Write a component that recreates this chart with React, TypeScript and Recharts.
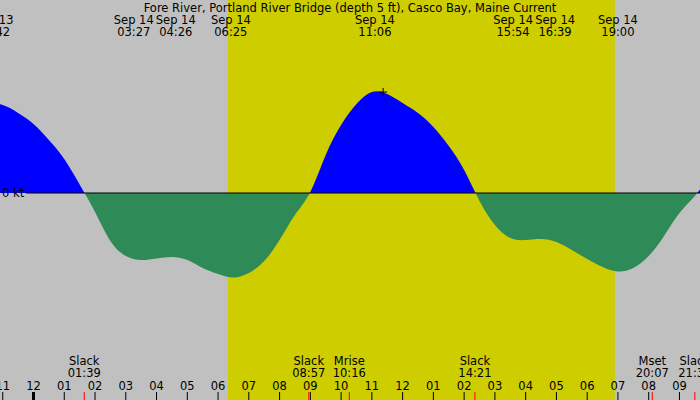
import React from 'react';
import {
  ComposedChart,
  Area,
  XAxis,
  YAxis,
  ReferenceArea,
  ReferenceLine,
  ReferenceDot,
} from 'recharts';

// current curve, every half hour from midnight Sep 14, in knots
const curveHours = [
  -1.5, -1, -0.5, 0, 0.5, 1, 1.5, 2, 2.5, 3, 3.5, 4, 4.5, 5, 5.5, 6, 6.5, 7, 7.5, 8, 8.5,
  9, 9.5, 10, 10.5, 11, 11.5, 12, 12.5, 13, 13.5, 14, 14.5, 15, 15.5, 16, 16.5, 17, 17.5,
  18, 18.5, 19, 19.5, 20, 20.5, 21, 21.5, 22,
];
const curveKt = [
  0.89, 0.88, 0.8, 0.69, 0.53, 0.34, 0.085, -0.19, -0.48, -0.63, -0.67, -0.655, -0.64, -0.67,
  -0.75, -0.81, -0.845, -0.8, -0.68, -0.47, -0.22, 0.01, 0.38, 0.68, 0.89, 1.01, 0.99, 0.9,
  0.8, 0.66, 0.47, 0.23, -0.08, -0.32, -0.45, -0.47, -0.46, -0.49, -0.57, -0.66, -0.74,
  -0.785, -0.75, -0.63, -0.43, -0.2, -0.03, 0.18,
];

// max / min current events (top row)
const peakDates = ['Sep 13', 'Sep 14', 'Sep 14', 'Sep 14', 'Sep 14', 'Sep 14', 'Sep 14', 'Sep 14'];
const peakTimes = ['22:42', '03:27', '04:26', '06:25', '11:06', '15:54', '16:39', '19:00'];

// slack / moon events (bottom row)
const eventNames = ['Slack', 'Slack', 'Mrise', 'Slack', 'Mset', 'Slack'];
const eventTimes = ['01:39', '08:57', '10:16', '14:21', '20:07', '21:30'];

const hourTicks = [-1, 0, 1, 2, 3, 4, 5, 6, 7, 8, 9, 10, 11, 12, 13, 14, 15, 16, 17, 18, 19, 20, 21];

const sunrise = '06:19';
const sunset = '18:54';
const floodMark = { time: '11:22', kt: 1.01 };

const xDomain = [-1.089, 21.668];
const yDomain = [-2.07, 1.93];

const W = 700;
const H = 400;
const FONT = '"DejaVu Sans", sans-serif';
const FS = 11.5;

const toHours = (t: string, date = 'Sep 14') => {
  const [h, m] = t.split(':').map(Number);
  return h + m / 60 - (date === 'Sep 13' ? 24 : 0);
};

const data = curveHours.map((h, i) => ({ h, kt: curveKt[i] }));
const peakHours = peakTimes.map((t, i) => toHours(t, peakDates[i]));
const eventHours = eventTimes.map((t) => toHours(t));

// push apart top labels that would overlap
const pxPerHour = W / (xDomain[1] - xDomain[0]);
const labelW = 42;
const peakNudge = peakHours.map((h, i) => {
  let d = 0;
  const prev = peakHours[i - 1];
  const next = peakHours[i + 1];
  if (next !== undefined && (next - h) * pxPerHour < labelW) d -= (labelW - (next - h) * pxPerHour) / 2;
  if (prev !== undefined && (h - prev) * pxPerHour < labelW) d += (labelW - (h - prev) * pxPerHour) / 2;
  return d;
});

const hourLabel = (h: number) => {
  const v = ((h + 24) % 12) || 12;
  return String(v).padStart(2, '0');
};

const zeroY = (yDomain[1] / (yDomain[1] - yDomain[0])) * H;

function HourTick(props: any) {
  const { x, payload } = props;
  const v = payload.value;
  return (
    <g>
      <text x={x} y={390} textAnchor="middle" fontSize={FS} fontFamily={FONT} fill="#000">
        {hourLabel(v)}
      </text>
      <rect x={v === 0 ? x - 1.5 : x - 0.5} y={392} width={v === 0 ? 3 : 1} height={8} fill="#000" />
    </g>
  );
}

function PeakTick(props: any) {
  const { x, payload } = props;
  const i = peakHours.indexOf(payload.value);
  const cx = x + (peakNudge[i] ?? 0);
  return (
    <g>
      <text x={cx} y={24} textAnchor="middle" fontSize={FS} fontFamily={FONT} fill="#000">
        {peakDates[i]}
      </text>
      <text x={cx} y={36} textAnchor="middle" fontSize={FS} fontFamily={FONT} fill="#000">
        {peakTimes[i]}
      </text>
    </g>
  );
}

function EventTick(props: any) {
  const { x, payload } = props;
  const i = eventHours.indexOf(payload.value);
  return (
    <g>
      <text x={x} y={365} textAnchor="middle" fontSize={FS} fontFamily={FONT} fill="#000">
        {eventNames[i]}
      </text>
      <text x={x} y={377} textAnchor="middle" fontSize={FS} fontFamily={FONT} fill="#000">
        {eventTimes[i]}
      </text>
      <rect x={x - 0.5} y={392} width={1} height={8} fill="#ff0000" />
    </g>
  );
}

function Plus(props: any) {
  const { cx, cy } = props;
  return (
    <g stroke="#000" strokeWidth={1}>
      <line x1={cx - 4} y1={cy} x2={cx + 4} y2={cy} />
      <line x1={cx} y1={cy - 4} x2={cx} y2={cy + 4} />
    </g>
  );
}

const overlayText: React.CSSProperties = {
  position: 'absolute',
  fontFamily: FONT,
  fontSize: FS,
  lineHeight: '12px',
  color: '#000',
  whiteSpace: 'nowrap',
};

export default function App() {
  return (
    <div style={{ position: 'absolute', left: 0, top: 0, width: W, height: H, background: '#c0c0c0', overflow: 'hidden' }}>
      <ComposedChart width={W} height={H} data={data} margin={{ top: -1, right: 0, bottom: -2, left: 0 }}>
        <defs>
          <linearGradient id="cur" gradientUnits="userSpaceOnUse" x1={0} y1={0} x2={0} y2={H}>
            <stop offset={zeroY / H} stopColor="#0000ff" />
            <stop offset={zeroY / H} stopColor="#2e8b57" />
          </linearGradient>
        </defs>
        <XAxis
          dataKey="h"
          type="number"
          domain={xDomain}
          allowDataOverflow
          ticks={hourTicks}
          interval={0}
          height={1}
          axisLine={false}
          tickLine={false}
          tick={(p: any) => <HourTick key={p.index} {...p} />}
        />
        <XAxis
          xAxisId="ev"
          dataKey="h"
          type="number"
          domain={xDomain}
          allowDataOverflow
          ticks={eventHours}
          interval={0}
          height={1}
          axisLine={false}
          tickLine={false}
          tick={(p: any) => <EventTick key={p.index} {...p} />}
        />
        <XAxis
          xAxisId="top"
          orientation="top"
          dataKey="h"
          type="number"
          domain={xDomain}
          allowDataOverflow
          ticks={peakHours}
          interval={0}
          height={1}
          axisLine={false}
          tickLine={false}
          tick={(p: any) => <PeakTick key={p.index} {...p} />}
        />
        <YAxis hide type="number" domain={yDomain} allowDataOverflow width={0} />
        <ReferenceArea
          x1={toHours(sunrise)}
          x2={toHours(sunset)}
          y1={yDomain[0]}
          y2={yDomain[1]}
          fill="#cdcd00"
          fillOpacity={1}
          stroke="none"
        />
        <Area
          dataKey="kt"
          type="natural"
          baseValue={0}
          stroke="none"
          fill="url(#cur)"
          fillOpacity={1}
          isAnimationActive={false}
          dot={false}
          activeDot={false}
        />
        <ReferenceLine
          segment={[
            { x: -0.24, y: 0 },
            { x: xDomain[1], y: 0 },
          ]}
          stroke="#000"
          strokeWidth={1}
        />
        <ReferenceDot x={toHours(floodMark.time)} y={floodMark.kt} shape={<Plus />} />
      </ComposedChart>
      <div style={{ ...overlayText, left: 0, width: W, top: 2, textAlign: 'center' }}>
        Fore River, Portland River Bridge (depth 5 ft), Casco Bay, Maine Current
      </div>
      <div style={{ ...overlayText, left: 2, top: zeroY - 6 }}>0 kt</div>
    </div>
  );
}
